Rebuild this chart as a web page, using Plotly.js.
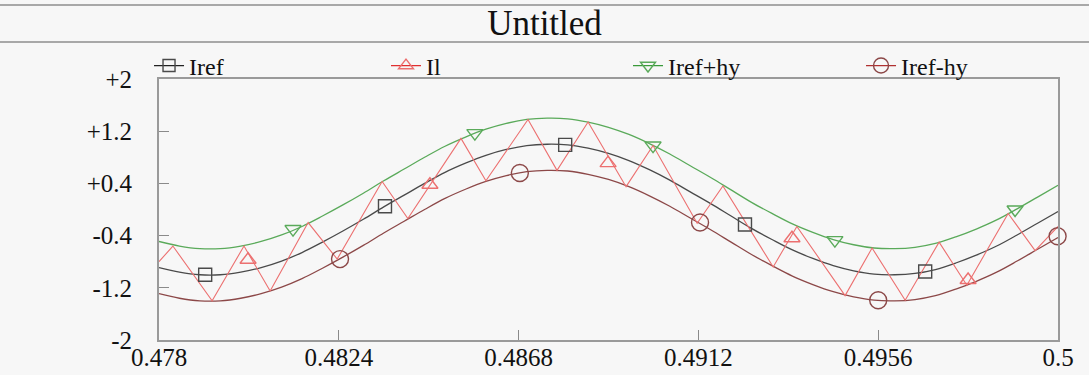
<!DOCTYPE html>
<html>
<head>
<meta charset="utf-8">
<script src="https://cdn.plot.ly/plotly-3.0.1.min.js"></script>
<style>
html,body{margin:0;padding:0;background:#f7f7f7;}
#chart{width:1089px;height:375px;}
</style>
</head>
<body>
<div id="chart"></div>
<script>
// time axis samples (s)
const t = [0.4780,0.4785,0.4790,0.4795,0.4800,0.4805,0.4810,0.4815,0.4820,0.4825,
           0.4830,0.4835,0.4840,0.4845,0.4850,0.4855,0.4860,0.4865,0.4870,0.4875,
           0.4880,0.4885,0.4890,0.4895,0.4900,0.4905,0.4910,0.4915,0.4920,0.4925,
           0.4930,0.4935,0.4940,0.4945,0.4950,0.4955,0.4960,0.4965,0.4970,0.4975,
           0.4980,0.4985,0.4990,0.4995,0.5000];
const iref = [-0.89,-0.96,-1.00,-1.00,-0.96,-0.89,-0.79,-0.66,-0.50,-0.33,
              -0.15,0.04,0.22,0.40,0.57,0.71,0.83,0.92,0.98,1.00,
              0.99,0.94,0.86,0.75,0.61,0.45,0.27,0.09,-0.10,-0.29,
              -0.46,-0.62,-0.75,-0.86,-0.94,-0.99,-1.00,-0.98,-0.92,-0.82,
              -0.70,-0.56,-0.39,-0.21,-0.03];
const irefPlus = [-0.49,-0.56,-0.60,-0.60,-0.56,-0.49,-0.39,-0.26,-0.10,0.07,
                  0.25,0.44,0.62,0.80,0.97,1.11,1.23,1.32,1.38,1.40,
                  1.39,1.34,1.26,1.15,1.01,0.85,0.67,0.49,0.30,0.11,
                  -0.06,-0.22,-0.35,-0.46,-0.54,-0.59,-0.60,-0.58,-0.52,-0.42,
                  -0.30,-0.16,0.01,0.19,0.37];
const irefMinus = [-1.29,-1.36,-1.40,-1.40,-1.36,-1.29,-1.19,-1.06,-0.90,-0.73,
                   -0.55,-0.36,-0.18,0.00,0.17,0.31,0.43,0.52,0.58,0.60,
                   0.59,0.54,0.46,0.35,0.21,0.05,-0.13,-0.31,-0.50,-0.69,
                   -0.86,-1.02,-1.15,-1.26,-1.34,-1.39,-1.40,-1.38,-1.32,-1.22,
                   -1.10,-0.96,-0.79,-0.61,-0.43];
// Il switching vertices
const ilT = [0.47800,0.47834,0.47930,0.48008,0.48072,0.48165,0.48236,0.48346,0.48409,0.48539,
             0.48600,0.48703,0.48774,0.48850,0.48943,0.49009,0.49117,0.49180,0.49303,0.49361,
             0.49479,0.49545,0.49626,0.49709,0.49777,0.49878,0.49944,0.50000];
const il = [-0.80,-0.56,-1.40,-0.56,-1.25,-0.20,-0.76,0.43,-0.14,1.09,
            0.44,1.38,0.60,1.34,0.35,0.98,-0.21,0.36,-0.88,-0.26,
            -1.32,-0.59,-1.39,-0.50,-1.16,-0.06,-0.63,-0.26];
// marker positions
const irefMarkT = [0.47913,0.48353,0.48794,0.49234,0.49675];
const irefMarkY = [-1.00,0.05,0.99,-0.23,-0.95];
const ilMarkT = [0.48018,0.48463,0.48899,0.49349,0.49780];
const ilMarkY = [-0.77,0.38,0.71,-0.44,-1.08];
const plusMarkT = [0.48128,0.48573,0.49009,0.49454,0.49895];
const plusMarkY = [-0.30,1.17,0.98,-0.47,0.00];
const minusMarkT = [0.48243,0.48683,0.49124,0.49560,0.49999];
const minusMarkY = [-0.76,0.56,-0.20,-1.39,-0.41];

const xTicks = [0.478,0.4824,0.4868,0.4912,0.4956,0.5];
const xTickText = ['0.478','0.4824','0.4868','0.4912','0.4956','0.5'];
const yTicks = [-2,-1.2,-0.4,0.4,1.2,2];
const yTickText = ['-2','-1.2','-0.4','+0.4','+1.2','+2'];
const names = ['Iref','Il','Iref+hy','Iref-hy'];

const cRef = '#4a4a4a', cIl = '#ec7070', cPlus = '#5aaa5a', cMinus = '#8c4848';
const FONT = '"Liberation Serif", serif';

const traces = [
  {x:t, y:irefPlus, mode:'lines', line:{color:cPlus, width:1.3, shape:'spline'}, showlegend:false, hoverinfo:'skip'},
  {x:t, y:irefMinus, mode:'lines', line:{color:cMinus, width:1.3, shape:'spline'}, showlegend:false, hoverinfo:'skip'},
  {x:t, y:iref, mode:'lines', line:{color:cRef, width:1.3, shape:'spline'}, showlegend:false, hoverinfo:'skip'},
  {x:ilT, y:il, mode:'lines', line:{color:cIl, width:1.1}, showlegend:false, hoverinfo:'skip'},
  {x:irefMarkT, y:irefMarkY, mode:'markers', cliponaxis:false, marker:{symbol:'square-open', size:13, color:cRef, line:{width:1.4}}, showlegend:false},
  {x:ilMarkT, y:ilMarkY, mode:'markers', cliponaxis:false, marker:{symbol:'triangle-up-open', size:14, color:cIl, line:{width:1.4}}, showlegend:false},
  {x:plusMarkT, y:plusMarkY, mode:'markers', cliponaxis:false, marker:{symbol:'triangle-down-open', size:14, color:cPlus, line:{width:1.4}}, showlegend:false},
  {x:minusMarkT, y:minusMarkY, mode:'markers', cliponaxis:false, marker:{symbol:'circle-open', size:17, color:cMinus, line:{width:1.4}}, showlegend:false},
  // legend entries
  {x:[null], y:[null], name:names[0], legend:'legend', mode:'lines+markers', line:{color:'#222', width:1.3}, marker:{symbol:'square-open', size:12, color:cRef, line:{width:1.4}}},
  {x:[null], y:[null], name:names[1], legend:'legend2', mode:'lines+markers', line:{color:'#e03030', width:1.3}, marker:{symbol:'triangle-up-open', size:13, color:cIl, line:{width:1.4}}},
  {x:[null], y:[null], name:names[2], legend:'legend3', mode:'lines+markers', line:{color:'#3a9a3a', width:1.3}, marker:{symbol:'triangle-down-open', size:13, color:cPlus, line:{width:1.4}}},
  {x:[null], y:[null], name:names[3], legend:'legend4', mode:'lines+markers', line:{color:'#b03030', width:1.3}, marker:{symbol:'circle-open', size:15, color:cMinus, line:{width:1.4}}}
];

const axisCommon = {
  showgrid:false, zeroline:false, showline:true, linecolor:'#9a9a9a', linewidth:2, mirror:true,
  ticks:'inside', ticklen:10, tickwidth:1, tickcolor:'#8a8a8a',
  tickfont:{family:FONT, size:25, color:'#111'}
};

function legendAt(x) {
  return {orientation:'h', x:x, xanchor:'left', y:1.05, yanchor:'middle', yref:'paper',
          bgcolor:'rgba(0,0,0,0)', font:{family:FONT, size:24, color:'#111'}, itemsizing:'trace'};
}

const layout = {
  width:1089, height:375,
  paper_bgcolor:'#f7f7f7', plot_bgcolor:'#f7f7f7',
  margin:{l:159, r:31, t:79, b:35},
  font:{family:FONT, color:'#111'},
  title:{text:'Untitled', font:{family:FONT, size:35, color:'#111'}, x:0.5, xref:'container', xanchor:'center', y:0.94, yref:'container', yanchor:'middle'},
  xaxis:Object.assign({}, axisCommon, {range:[0.478,0.5], tickvals:xTicks, ticktext:xTickText, ticklabelstandoff:-6}),
  yaxis:Object.assign({}, axisCommon, {range:[-2,2], tickvals:yTicks, ticktext:yTickText, ticklabelstandoff:20}),
  legend:legendAt(-0.0111),
  legend2:legendAt(0.2525),
  legend3:legendAt(0.5217),
  legend4:legendAt(0.7809),
  shapes:[
    {type:'line', xref:'paper', yref:'paper', x0:-0.177, x1:1.035, y0:1.2835, y1:1.2835, line:{color:'#a8a8a8', width:2}},
    {type:'line', xref:'paper', yref:'paper', x0:-0.177, x1:1.035, y0:1.1418, y1:1.1418, line:{color:'#a8a8a8', width:2}}
  ],
  showlegend:true
};

Plotly.newPlot('chart', traces, layout, {displayModeBar:false, staticPlot:true});
</script>
</body>
</html>
